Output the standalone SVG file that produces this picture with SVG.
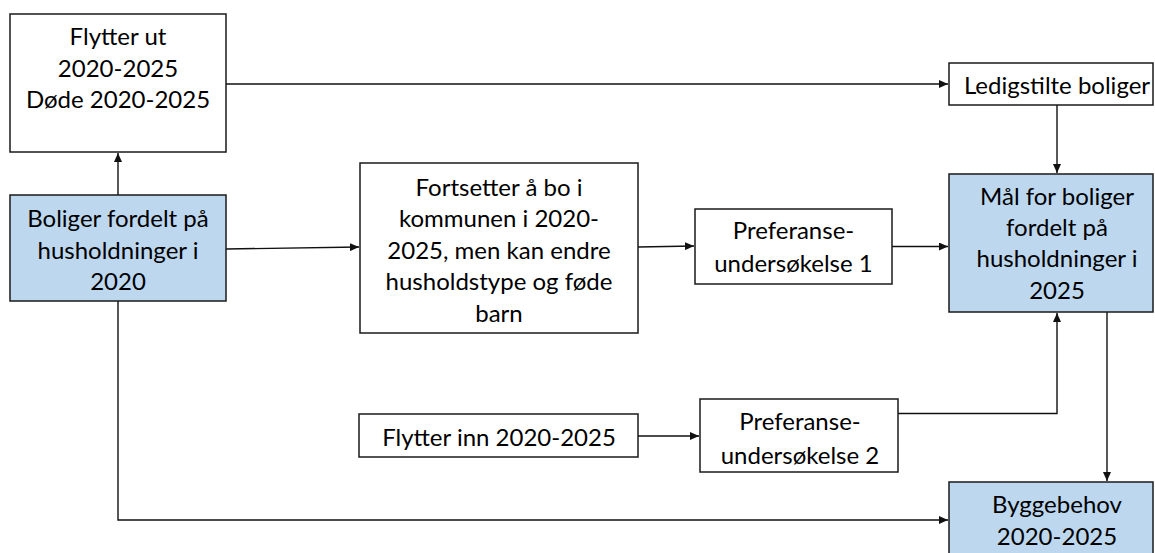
<svg xmlns="http://www.w3.org/2000/svg" width="1155" height="553" viewBox="0 0 1155 553">
<style>
.box{fill:#ffffff;stroke:#1a1a1a;stroke-width:1.5}
.blue{fill:#BDD7EE;stroke:#1a1a1a;stroke-width:1.5}
.t{font-family:Lato,"Open Sans",sans-serif;font-size:24px;fill:#000;text-anchor:middle}
.c{fill:none;stroke:#111;stroke-width:1.4}
</style>
<defs>
<marker id="ah" markerUnits="userSpaceOnUse" markerWidth="10" markerHeight="8" refX="9" refY="4" orient="auto">
<path d="M0,0 L9,4 L0,8 z" fill="#111"/>
</marker>
</defs>
<rect width="1155" height="553" fill="#ffffff"/>
<g id="connectors">
<path class="c" d="M118,195 L118,153" marker-end="url(#ah)"/>
<path class="c" d="M226,84 L948,84" marker-end="url(#ah)"/>
<path class="c" d="M226,249 L359,247" marker-end="url(#ah)"/>
<path class="c" d="M638,247 L694,246" marker-end="url(#ah)"/>
<path class="c" d="M892,246.5 L948,246.5" marker-end="url(#ah)"/>
<path class="c" d="M1057,105 L1057,173" marker-end="url(#ah)"/>
<path class="c" d="M638,436 L699,436" marker-end="url(#ah)"/>
<path class="c" d="M898,413.5 L1057,413.5 L1057,313" marker-end="url(#ah)"/>
<path class="c" d="M1107,312 L1107,481" marker-end="url(#ah)"/>
<path class="c" d="M118,301 L118,520 L948,520" marker-end="url(#ah)"/>
</g>
<g id="flytter-ut">
<rect class="box" x="10" y="14" width="216" height="138"/>
<text class="t" x="118" y="45">Flytter ut</text>
<text class="t" x="118" y="76.5">2020-2025</text>
<text class="t" x="118" y="108">Døde 2020-2025</text>
</g>
<g id="boliger-2020">
<rect class="blue" x="10" y="195" width="216" height="106"/>
<text class="t" x="118" y="227">Boliger fordelt på</text>
<text class="t" x="118" y="258.5">husholdninger i</text>
<text class="t" x="118" y="290">2020</text>
</g>
<g id="fortsetter">
<rect class="box" x="360" y="163" width="278" height="170"/>
<text class="t" x="499" y="195.5">Fortsetter å bo i</text>
<text class="t" x="499" y="227">kommunen i 2020-</text>
<text class="t" x="499" y="258.5">2025, men kan endre</text>
<text class="t" x="499" y="290">husholdstype og føde</text>
<text class="t" x="499" y="321.5">barn</text>
</g>
<g id="preferanse-1">
<rect class="box" x="695" y="209" width="197" height="75"/>
<text class="t" x="793.5" y="238.5">Preferanse-</text>
<text class="t" x="793.5" y="271.5">undersøkelse 1</text>
</g>
<g id="flytter-inn">
<rect class="box" x="359" y="414" width="279" height="43"/>
<text class="t" x="499" y="445.5">Flytter inn 2020-2025</text>
</g>
<g id="preferanse-2">
<rect class="box" x="700" y="399" width="198" height="73"/>
<text class="t" x="800" y="429.5">Preferanse-</text>
<text class="t" x="800" y="463.5">undersøkelse 2</text>
</g>
<g id="ledigstilte">
<rect class="box" x="949" y="63" width="204" height="42"/>
<text class="t" x="1057" y="93.5">Ledigstilte boliger</text>
</g>
<g id="maal-2025">
<rect class="blue" x="949" y="174" width="204" height="138"/>
<text class="t" x="1057" y="204.5">Mål for boliger</text>
<text class="t" x="1057" y="236">fordelt på</text>
<text class="t" x="1057" y="267">husholdninger i</text>
<text class="t" x="1057" y="298.5">2025</text>
</g>
<g id="byggebehov">
<rect class="blue" x="949" y="482" width="204" height="90"/>
<text class="t" x="1057" y="513">Byggebehov</text>
<text class="t" x="1057" y="544.5">2020-2025</text>
</g>
</svg>
